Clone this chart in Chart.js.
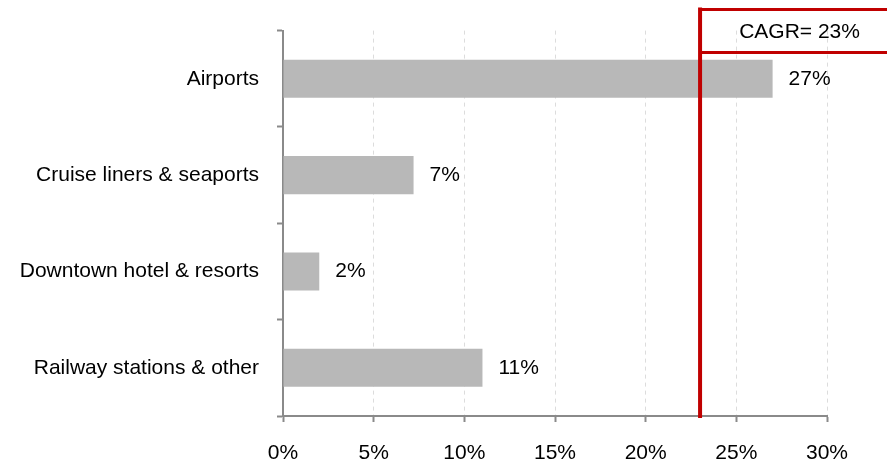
<!DOCTYPE html>
<html>
<head>
<meta charset="utf-8">
<title>Growth by channel</title>
<script src="https://cdn.jsdelivr.net/npm/chart.js@4/dist/chart.umd.min.js"></script>
<style>
  html, body { margin: 0; padding: 0; background: #fff; overflow: hidden; }
  canvas { display: block; }
</style>
</head>
<body>
<canvas id="chart" width="887" height="461"></canvas>
<script>
// Channel growth rates (%)
const categories = [
  'Airports',
  'Cruise liners & seaports',
  'Downtown hotel & resorts',
  'Railway stations & other'
];
const growthRates = [27, 7.2, 2, 11];

// Overall CAGR reference line (%)
const cagrValue = 23;
const cagrLabel = 'CAGR= ';

// Horizontal axis range and step (%)
const axisMin = 0;
const axisMax = 30;
const axisStep = 5;

const FONT = "'Liberation Sans', Arial, Helvetica, sans-serif";
const RED = '#c00000';
const AXIS_GREY = '#8a8a8a';

// Value labels to the right of each bar
const barValueLabels = {
  id: 'barValueLabels',
  afterDatasetsDraw(chart) {
    const { ctx } = chart;
    const meta = chart.getDatasetMeta(0);
    ctx.save();
    ctx.font = '21px ' + FONT;
    ctx.fillStyle = '#000';
    ctx.textAlign = 'left';
    ctx.textBaseline = 'middle';
    meta.data.forEach((bar, i) => {
      const v = chart.data.datasets[0].data[i];
      ctx.fillText(Math.round(v) + '%', bar.x + 16, bar.y);
    });
    ctx.restore();
  }
};

// Red CAGR marker: vertical rule plus a framed caption running off the right edge
const cagrMarker = {
  id: 'cagrMarker',
  afterDraw(chart) {
    const { ctx, chartArea } = chart;
    const x = chart.scales.x.getPixelForValue(cagrValue);
    const boxTop = chartArea.top - 21;
    const boxBottom = chartArea.top + 22;
    const boxRight = chart.width + 12;
    ctx.save();
    ctx.strokeStyle = RED;
    ctx.lineWidth = 4;
    ctx.beginPath();
    ctx.moveTo(x, boxTop - 2);
    ctx.lineTo(x, chartArea.bottom + 2);
    ctx.stroke();
    ctx.lineWidth = 3;
    ctx.beginPath();
    ctx.moveTo(x, boxTop);
    ctx.lineTo(boxRight, boxTop);
    ctx.moveTo(x, boxBottom);
    ctx.lineTo(boxRight, boxBottom);
    ctx.stroke();
    ctx.font = '21px ' + FONT;
    ctx.fillStyle = '#000';
    ctx.textAlign = 'center';
    ctx.textBaseline = 'middle';
    ctx.fillText(cagrLabel + cagrValue + '%', (x + boxRight) / 2, (boxTop + boxBottom) / 2 + 1);
    ctx.restore();
  }
};

new Chart(document.getElementById('chart'), {
  type: 'bar',
  data: {
    labels: categories,
    datasets: [{
      data: growthRates,
      backgroundColor: '#b8b8b8',
      borderWidth: 0,
      barPercentage: 0.395,
      categoryPercentage: 1
    }]
  },
  options: {
    indexAxis: 'y',
    responsive: false,
    animation: false,
    events: [],
    layout: { padding: { top: 30, right: 60, bottom: 0, left: 0 } },
    plugins: {
      legend: { display: false },
      tooltip: { enabled: false }
    },
    scales: {
      x: {
        min: axisMin,
        max: axisMax,
        ticks: {
          stepSize: axisStep,
          padding: 19,
          color: '#000',
          font: { family: FONT, size: 21 },
          callback: v => v + '%'
        },
        grid: {
          color: '#dcdcdc',
          lineWidth: 1,
          tickLength: 6,
          tickColor: AXIS_GREY,
          tickWidth: 2,
          drawTicks: true
        },
        border: { display: true, color: AXIS_GREY, width: 2, dash: [4, 4] },
        afterFit(scale) { scale.height = 45; }
      },
      y: {
        ticks: {
          padding: 18,
          color: '#000',
          font: { family: FONT, size: 21 }
        },
        grid: {
          offset: true,
          drawOnChartArea: false,
          tickLength: 6,
          tickColor: AXIS_GREY,
          tickWidth: 2
        },
        border: { display: true, color: AXIS_GREY, width: 2 },
        afterFit(scale) { scale.width = 283; }
      }
    }
  },
  plugins: [barValueLabels, cagrMarker]
});
</script>
</body>
</html>
